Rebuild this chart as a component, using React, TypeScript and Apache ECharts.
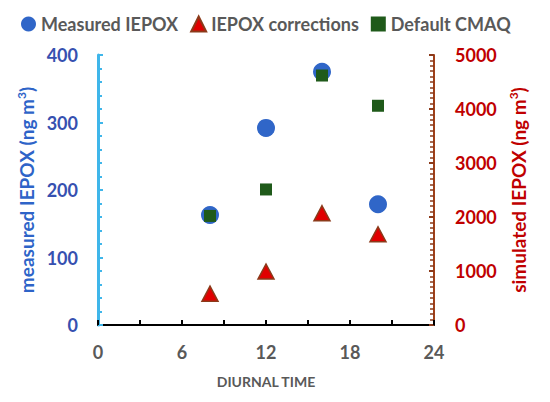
import { useEffect, useRef } from "react";
import * as echarts from "echarts";

const hours = [8, 12, 16, 20];
const measuredIepox = [163, 292, 375, 179];
const iepoxCorrections = [580, 990, 2070, 1680];
const defaultCmaq = [2020, 2510, 4620, 4060];

const FONT = "Lato";

const pairs = (xs: number[], ys: number[]) => xs.map((x, i) => [x, ys[i]]);

const titleRich = (color: string) => ({
  t: { fontSize: 19, fontWeight: "bold" as const, color, fontFamily: FONT },
  sup: { fontSize: 12, fontWeight: "bold" as const, color, fontFamily: FONT, verticalAlign: "top" as const, padding: [0, 0, 9, 0] },
});

export default function App() {
  const chartRef = useRef<HTMLDivElement>(null);

  useEffect(() => {
    if (!chartRef.current) return;
    const chart = echarts.init(chartRef.current, undefined, { renderer: "svg" });

    const option: echarts.EChartsOption = {
      animation: false,
      backgroundColor: "#ffffff",
      textStyle: { fontFamily: FONT },
      legend: {
        top: 10,
        left: 16,
        itemGap: 12,
        itemWidth: 15,
        itemHeight: 15,
        textStyle: { fontSize: 18, fontWeight: "bold", color: "#595959", fontFamily: FONT },
        data: [
          { name: "Measured IEPOX", icon: "circle" },
          { name: "IEPOX corrections", icon: "triangle" },
          { name: "Default CMAQ", icon: "rect" },
        ],
      },
      grid: { left: 98, right: 116, top: 55, bottom: 77 },
      xAxis: {
        type: "value",
        min: 0,
        max: 24,
        interval: 6,
        name: "DIURNAL TIME",
        nameLocation: "middle",
        nameGap: 49,
        nameTextStyle: { fontSize: 14, fontWeight: "bold", color: "#595959", fontFamily: FONT },
        axisLine: { lineStyle: { color: "#000000", width: 2 } },
        axisTick: { inside: true, length: 5, lineStyle: { color: "#000000", width: 2 } },
        minorTick: { show: true, splitNumber: 2, length: 5, lineStyle: { color: "#000000", width: 2 } },
        axisLabel: { margin: 18, fontSize: 18, fontWeight: "bold", color: "#595959", fontFamily: FONT },
        splitLine: { show: false },
      },
      yAxis: [
        {
          type: "value",
          position: "left",
          min: 0,
          max: 400,
          interval: 100,
          name: "{t|measured IEPOX (ng m}{sup|3}{t|)}",
          nameLocation: "middle",
          nameGap: 54,
          nameTextStyle: { rich: titleRich("#2E64C8") },
          axisLine: { show: true, lineStyle: { color: "#3FB6EA", width: 3 } },
          axisTick: { show: true, inside: true, length: 5, lineStyle: { color: "#3FB6EA", width: 2 } },
          minorTick: { show: true, splitNumber: 5, length: 4, lineStyle: { color: "#3FB6EA", width: 2 } },
          axisLabel: { margin: 20, fontSize: 18, fontWeight: "bold", color: "#3650B0", fontFamily: FONT },
          splitLine: { show: false },
        },
        {
          type: "value",
          position: "right",
          min: 0,
          max: 5000,
          interval: 1000,
          name: "{t|simulated IEPOX (ng m}{sup|3}{t|)}",
          nameLocation: "middle",
          nameGap: 72,
          nameTextStyle: { rich: titleRich("#C00000") },
          axisLine: { show: true, lineStyle: { color: "#A0401A", width: 2 } },
          axisTick: { show: true, inside: true, length: 5, lineStyle: { color: "#8B3A1A", width: 2 } },
          minorTick: { show: true, splitNumber: 10, length: 4, lineStyle: { color: "#8B3A1A", width: 1.5 } },
          axisLabel: {
            margin: 21,
            fontSize: 18,
            fontWeight: "bold",
            color: "#C00000",
            fontFamily: FONT,
            formatter: (v: number) => String(v),
          },
          splitLine: { show: false },
        },
      ],
      series: [
        {
          name: "Measured IEPOX",
          type: "scatter",
          yAxisIndex: 0,
          symbol: "circle",
          symbolSize: 18,
          itemStyle: { color: "#3066C8", opacity: 1 },
          data: pairs(hours, measuredIepox),
        },
        {
          name: "IEPOX corrections",
          type: "scatter",
          yAxisIndex: 1,
          symbol: "triangle",
          symbolSize: [16, 15],
          itemStyle: { color: "#E00000", borderColor: "#8B3A1A", borderWidth: 1.5, opacity: 1 },
          data: pairs(hours, iepoxCorrections),
        },
        {
          name: "Default CMAQ",
          type: "scatter",
          yAxisIndex: 1,
          symbol: "rect",
          symbolSize: 12,
          itemStyle: { color: "#1F5A1A", opacity: 1 },
          data: pairs(hours, defaultCmaq),
        },
      ],
    };

    chart.setOption(option);

    return () => {
      chart.dispose();
    };
  }, []);

  return <div ref={chartRef} style={{ width: "550px", height: "402px", margin: "-8px" }} />;
}
